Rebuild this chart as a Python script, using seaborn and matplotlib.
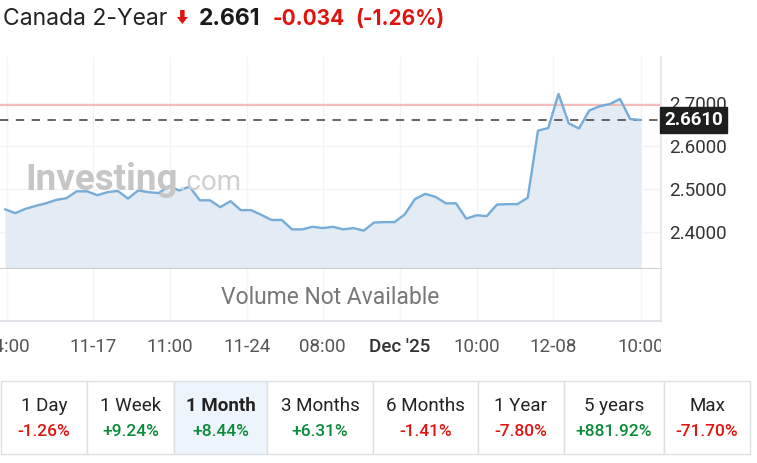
import numpy as np
import pandas as pd
import matplotlib
matplotlib.use("Agg")
import matplotlib.pyplot as plt
from matplotlib.patches import Rectangle, FancyArrow
from matplotlib.transforms import Bbox, TransformedBbox
import seaborn as sns

# Canada 2-year yield, 1 month view
yields = [2.452, 2.443, 2.453, 2.460, 2.466, 2.474, 2.478, 2.494, 2.494, 2.485,
          2.492, 2.495, 2.477, 2.496, 2.492, 2.490, 2.506, 2.496, 2.505, 2.473,
          2.473, 2.457, 2.471, 2.450, 2.450, 2.439, 2.427, 2.427, 2.405, 2.405,
          2.411, 2.408, 2.411, 2.405, 2.408, 2.402, 2.421, 2.422, 2.422, 2.440,
          2.476, 2.488, 2.481, 2.466, 2.466, 2.430, 2.438, 2.436, 2.463, 2.464,
          2.464, 2.479, 2.636, 2.642, 2.722, 2.653, 2.641, 2.683, 2.693, 2.698,
          2.710, 2.663, 2.661]
last_price = 2.661
prev_close = 2.695
change = -0.034
change_pct = -1.26

ytick_vals = [2.4, 2.5, 2.6, 2.7]
xtick_pos = [0.2, 8.6, 16.1, 23.6, 31.0, 38.5, 46.0, 53.5, 62.0]
xtick_labels = ["14:00", "11-17", "11:00", "11-24", "08:00", "Dec '25", "10:00", "12-08", "10:00"]

periods = ["1 Day", "1 Week", "1 Month", "3 Months", "6 Months", "1 Year", "5 years", "Max"]
period_chg = [-1.26, 9.24, 8.44, 6.31, -1.41, -7.80, 881.92, -71.70]
active_period = "1 Month"

df = pd.DataFrame({"idx": np.arange(len(yields)), "yield": yields})

sns.set_theme(style="white")
plt.rcParams["font.family"] = ["Roboto", "DejaVu Sans"]

W, H = 757, 463
fig = plt.figure(figsize=(W / 100, H / 100), dpi=100)

def fbox(x0, y0, x1, y1):
    # pixel box (top-left origin) -> figure fraction rect
    return [x0 / W, 1 - y1 / H, (x1 - x0) / W, (y1 - y0) / H]

RED = "#e0140f"
GREEN = "#0b8a3a"
LINE = "#75acd8"
FILL = "#e3ebf4"
GRID = "#f2f4f7"

# background overlay in pixel coordinates
bg = fig.add_axes([0, 0, 1, 1], zorder=-5)
bg.set_xlim(0, W)
bg.set_ylim(H, 0)
bg.axis("off")

# ---- main price panel
ax = fig.add_axes(fbox(0, 57, 661, 269))
xlo, xhi = -0.488, 64.0
ax.set_xlim(xlo, xhi)
ax.set_ylim(2.3123, 2.8082)
for v in ytick_vals:
    ax.axhline(v, color=GRID, lw=1, zorder=0)
for p in xtick_pos:
    ax.axvline(p, color=GRID, lw=1, zorder=0)
ax.fill_between(df["idx"], df["yield"], 2.3123, color=FILL, lw=0, zorder=1)
sns.lineplot(data=df, x="idx", y="yield", ax=ax, color=LINE, lw=1.7, zorder=3)
ax.axhline(prev_close, color="#f7b4b4", lw=1.3, zorder=2)
ax.axhline(last_price, color="#4a4a4a", lw=1.2, dashes=(5, 4.5), zorder=2)

ax.set_xlabel("")
ax.set_ylabel("")
ax.set_xticks([])
ax.yaxis.tick_right()
ax.set_yticks(ytick_vals)
ax.set_yticklabels([f"{v:.4f}" for v in ytick_vals])
ax.tick_params(axis="y", length=0, pad=6, labelsize=13.5, labelcolor="#333333")
for s in ["top", "left"]:
    ax.spines[s].set_visible(False)
ax.spines["right"].set_color("#e3e7ed")
ax.spines["bottom"].set_color("#c8c8c8")
ax.spines["bottom"].set_linewidth(1.3)

ax.annotate(f"{last_price:.4f}", xy=(1.0, last_price), xycoords=("axes fraction", "data"),
            xytext=(3, 0), textcoords="offset pixels", ha="left", va="center",
            fontsize=13.5, fontweight="bold", color="white", annotation_clip=False,
            bbox=dict(boxstyle="square,pad=0.2", fc="#1e1e1e", ec="#1e1e1e"))

# watermark
fig.text(25 / W, 1 - 190 / H, "Investing", fontsize=26.5, fontweight="bold",
         color="#c6c6c6", ha="left", va="baseline", zorder=0)
fig.text(179 / W, 1 - 190 / H, ".com", fontsize=20, color="#cfcfcf",
         ha="left", va="baseline", zorder=0)

# ---- volume panel
axv = fig.add_axes(fbox(0, 269, 661, 321))
axv.set_xlim(xlo, xhi)
axv.set_ylim(0, 1)
for p in xtick_pos:
    axv.axvline(p, color=GRID, lw=1, zorder=0)
axv.text(0.5, 0.45, "Volume Not Available", transform=axv.transAxes,
         ha="center", va="center", fontsize=16.5, color="#777777")
axv.set_yticks([])
axv.set_xticks(xtick_pos)
axv.set_xticklabels(xtick_labels)
axv.tick_params(axis="x", length=7, width=1, color="#dde1e8", pad=5,
                labelsize=13.5, labelcolor="#555555")
for s in ["top", "left"]:
    axv.spines[s].set_visible(False)
axv.spines["right"].set_color("#e3e7ed")
axv.spines["bottom"].set_color("#dde1e8")
axv.spines["bottom"].set_linewidth(1.3)
labels = axv.get_xticklabels()
for lab in labels:
    if lab.get_text() == "Dec '25":
        lab.set_color("#333333")
        lab.set_fontweight("medium")
clip = TransformedBbox(Bbox([[0, 0], [661 / W, 1]]), fig.transFigure)
labels[-1].set_clip_box(clip)
labels[-1].set_clip_on(True)

# ---- header
fig.canvas.draw()
renderer = fig.canvas.get_renderer()
hy = 1 - 19 / H
t = fig.text(3 / W, hy, "Canada 2-Year", fontsize=16.5, color="#222222",
             family=["Inter", "DejaVu Sans"], va="center")
x1 = t.get_window_extent(renderer).x1
bg.add_patch(FancyArrow(x1 + 15, 10, 0, 14, width=4.5, head_width=11, head_length=7,
                        length_includes_head=True, color=RED, lw=0))
t = fig.text((x1 + 31) / W, hy, f"{last_price:.3f}", fontsize=16.5, fontweight="bold",
             color="#1a1a1a", family=["Inter", "DejaVu Sans"], va="center")
x1 = t.get_window_extent(renderer).x1
t = fig.text((x1 + 13) / W, hy, f"{change:.3f}", fontsize=15, fontweight="bold",
             color=RED, family=["Inter", "DejaVu Sans"], va="center")
x1 = t.get_window_extent(renderer).x1
fig.text((x1 + 10) / W, hy, f"({change_pct:.2f}%)", fontsize=15, fontweight="bold",
         color=RED, family=["Inter", "DejaVu Sans"], va="center")

# ---- period performance table
edges = [1, 87, 174, 267, 373, 478, 564, 664, 750]
top, bot = 381, 454
for i, (name, chg) in enumerate(zip(periods, period_chg)):
    x0, x1c = edges[i], edges[i + 1]
    fc = "#edf4fb" if name == active_period else "white"
    bg.add_patch(Rectangle((x0, top), x1c - x0, bot - top, fc=fc, ec="#dcdfe4", lw=1))
    cx = (x0 + x1c) / 2
    bg.text(cx, 406, name, ha="center", va="center", fontsize=13.5, color="#222222",
            fontweight="bold" if name == active_period else "normal")
    sign = "+" if chg > 0 else ""
    bg.text(cx, 432, f"{sign}{chg:.2f}%", ha="center", va="center", fontsize=12.5,
            color=GREEN if chg > 0 else RED, fontweight="medium")

fig.savefig("out.png", dpi=100)
